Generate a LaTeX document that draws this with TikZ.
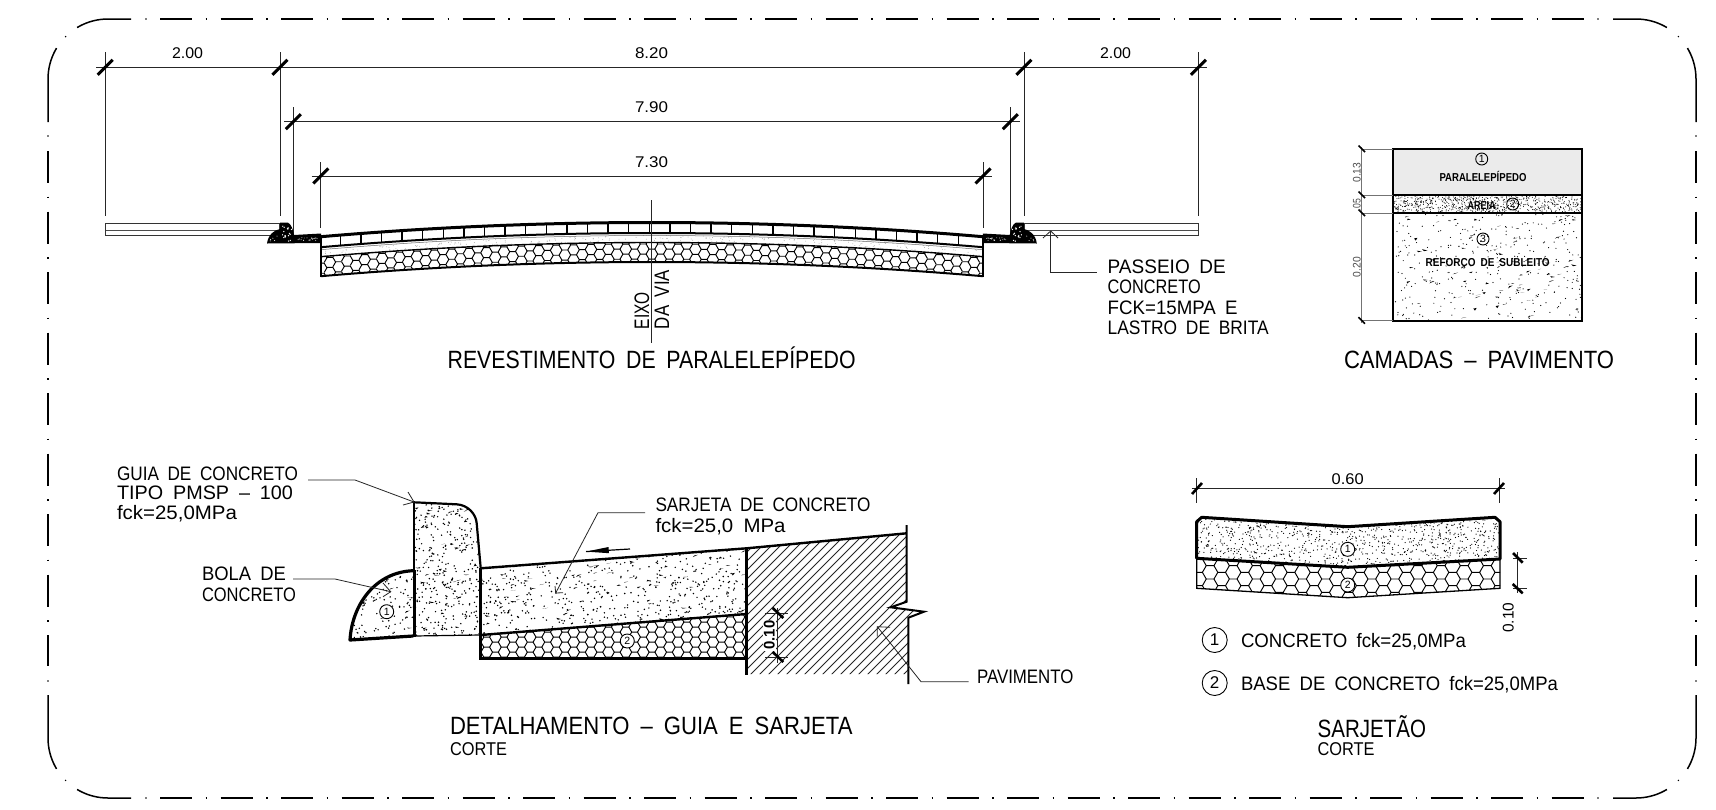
\documentclass[tikz,border=0pt]{standalone}
\usepackage{fontspec}
\usepackage{graphicx}
\setmainfont{Liberation Sans}
\newcommand\T[3]{\resizebox{#1pt}{\height}{\fontsize{#2}{#2}\selectfont\spaceskip=.5em\relax #3}}
\newcommand\tk[2]{\draw[tickst] (#1-7.5,#2+7.5) -- (#1+7.5,#2-7.5);}
\newcommand\hexes[6]{%
 \pgfmathsetmacro\hh{0.866*#5}%
 \pgfmathsetmacro\nc{int((#2-#1)/(1.5*#5))+2}%
 \pgfmathsetmacro\nr{int((#4-#3)/(2*\hh))+2}%
 \foreach \i in {0,...,\nc}{\foreach \j in {0,...,\nr}{%
   \pgfmathsetmacro\cx{#1+\i*1.5*#5}%
   \pgfmathsetmacro\cy{#3+\j*2*\hh+mod(\i,2)*\hh+#6*((\cx-651.9)/100)^2}%
   \draw[hexst] (\cx-#5,\cy)--(\cx-#5/2,\cy-\hh)--(\cx+#5/2,\cy-\hh)--(\cx+#5,\cy);
 }}}
\newcommand\stip[9]{%
 \pgfmathsetseed{#7}%
 \foreach \i in {1,...,#5}{%
   \pgfmathsetmacro\px{#1+(#2-#1)*rnd}\pgfmathsetmacro\py{#3+(#4-#3)*rnd}%
   \fill[#8] (\px,\py) circle[radius=#9];
 }%
 \ifnum#6>0
 \foreach \i in {1,...,#6}{%
   \pgfmathsetmacro\px{#1+(#2-#1)*rnd}\pgfmathsetmacro\py{#3+(#4-#3)*rnd}%
   \pgfmathsetmacro\ax{4.4*rnd-2.2}\pgfmathsetmacro\ay{4.4*rnd-2.2}%
   \fill[#8] (\px,\py) -- ++(\ax,\ay) -- ++(3.4,-0.6) -- cycle;
 }\fi}
\newcommand\corner[4]{%
 \draw[frame] (#1-#3*23,#2+#4*60) -- plot[domain=90:59,samples=10] ({#1+#3*60*cos(\x)},{#2+#4*60*sin(\x)});
 \draw[frame] plot[domain=31:0,samples=10] ({#1+#3*60*cos(\x)},{#2+#4*60*sin(\x)}) -- (#1+#3*60,#2-#4*43);
 \fill (#1+#3*42.4,#2+#4*42.4) circle[radius=.8];}
\newcommand\openhead[3]{\draw[lead] (#2) -- (#1) -- (#3);}
\tikzset{
 frame/.style={line width=1.5pt,black},
 dimln/.style={line width=.9pt,black!85},
 tickst/.style={line width=3pt,black},
 tickss/.style={line width=1.6pt,black},
 hexst/.style={line width=.95pt,black},
 thickln/.style={line width=3pt,black,line join=miter},
 midln/.style={line width=2pt,black},
 lead/.style={line width=.8pt,black!85},
 lab/.style={inner sep=0pt,outer sep=0pt,text=black},
 num/.style={circle,draw=black,fill=white,inner sep=0pt,minimum size=14pt,line width=.9pt,font=\fontsize{10.5}{10.5}\selectfont},
 numb/.style={circle,draw=black,inner sep=0pt,minimum size=25pt,line width=.9pt,font=\fontsize{17}{17}\selectfont},
 hatchln/.style={line width=.75pt,black!85},
}
\begin{document}
\begin{tikzpicture}[x=1pt,y=-1pt]
\useasboundingbox (0,0) rectangle (1716,809);
\fill[white] (0,0) rectangle (1716,809);
% ---------- frame
\draw[frame,dash pattern=on 32pt off 13.7pt on 1.4pt off 13.4pt] (160,19)--(1584,19);
\draw[frame,dash pattern=on 32pt off 13.7pt on 1.4pt off 13.4pt] (160,798)--(1584,798);
\draw[frame,dash pattern=on 32pt off 13.7pt on 1.4pt off 13.4pt] (48,151)--(48,666);
\draw[frame,dash pattern=on 32pt off 13.7pt on 1.4pt off 13.4pt] (1696,151)--(1696,666);
\corner{108}{79}{-1}{-1}\corner{1636}{79}{1}{-1}\corner{108}{738}{-1}{1}\corner{1636}{738}{1}{1}
\foreach \p in {(146,19),(1598,19),(146,798),(1598,798),(48,136),(48,681),(1696,136),(1696,681)}{\fill \p circle[radius=.8];}
% ---------- cross section dims
\draw[dimln] (105.3,52)--(105.3,216);
\draw[dimln] (280,52)--(280,216);
\draw[dimln] (1024,52)--(1024,216);
\draw[dimln] (1198.5,52)--(1198.5,216);
\draw[dimln] (96,67.3)--(1207,67.3);
\tk{105.3}{67.3}\tk{280}{67.3}\tk{1024}{67.3}\tk{1198.5}{67.3}
\draw[dimln] (293.4,107)--(293.4,237);
\draw[dimln] (1010.4,107)--(1010.4,237);
\draw[dimln] (284,121.7)--(1020,121.7);
\tk{293.4}{121.7}\tk{1010.4}{121.7}
\draw[dimln] (320.8,162)--(320.8,228);
\draw[dimln] (983,162)--(983,228);
\draw[dimln] (311.7,176)--(992,176);
\tk{320.8}{176}\tk{983}{176}
\node[lab,anchor=base] (d1) at (187.5,58.5) {\T{31}{15.5}{2.00}};
\node[lab,anchor=base] (d2) at (651.5,58.5) {\T{33}{15.5}{8.20}};
\node[lab,anchor=base] (d3) at (1115.5,58.5) {\T{31}{15.5}{2.00}};
\node[lab,anchor=base] (d4) at (651.5,112.5) {\T{33}{15.5}{7.90}};
\node[lab,anchor=base] (d5) at (651.5,167.5) {\T{33}{15.5}{7.30}};
% ---------- sidewalks
\foreach \a/\b in {105.3/280,1024/1198.5}{
 \draw[line width=1.1pt,black!80] (\a,223.7)--(\b,223.7);
 \draw[line width=1.5pt,black!70] (\a,230.3)--(\b,230.3);
 \draw[line width=1.1pt,black!80] (\a,235.6)--(\b,235.6);
 \draw[line width=1.1pt,black!80] (\a,223.7)--(\a,235.6);
 \draw[line width=1.1pt,black!80] (\b,223.7)--(\b,235.6);
}
% ---------- curbs
\foreach \m in {0,1}{
 \begin{scope}[shift={(1303.8*\m,0)},xscale={1-2*\m}]
 \fill[black] (267,243.5) .. controls (268,235) and (274,230) .. (280,229) -- (280,222.7) -- (288,222.7)
   .. controls (291,224) and (293,229) .. (294,235) -- (321,233.5) -- (321,243) -- cycle;
 \begin{scope}
  \clip (282,225) rectangle (292,242);
  \stip{282}{292}{225}{242}{18}{0}{11}{white}{.7}
 \end{scope}
 \stip{270}{278}{236}{241}{5}{0}{12}{white}{.5}
 \stip{298}{318}{237.5}{240.5}{22}{0}{13}{white}{.45}
 \end{scope}
}
% ---------- pavement
\begin{scope}
 \clip plot[domain=320.7:983.1,samples=40] (\x,{242.5+1.295*((\x-651.9)/100)^2})
   -- plot[domain=983.1:320.7,samples=40] (\x,{262+1.295*((\x-651.9)/100)^2}) -- cycle;
 \hexes{303.9}{1000}{244}{268}{5.8}{1.295}
\end{scope}
\begin{scope}
 \clip plot[domain=320.7:983.1,samples=40] (\x,{235+1.295*((\x-651.9)/100)^2})
   -- plot[domain=983.1:320.7,samples=40] (\x,{242.5+1.295*((\x-651.9)/100)^2}) -- cycle;
 \stip{321}{983}{234}{258}{900}{0}{21}{black!35}{.45}
\end{scope}
\foreach \k in {-15,...,15}{
 \pgfmathsetmacro\bx{649.3+\k*20.6}
 \pgfmathsetmacro\by{1.295*((\bx-651.9)/100)^2}
 \draw[line width=1.5pt,black] (\bx,222.5+\by)--(\bx,233+\by);
}
\draw[line width=3pt,black] plot[domain=320.7:983.1,samples=40] (\x,{222.5+1.295*((\x-651.9)/100)^2});
\draw[line width=2pt,black] plot[domain=320.7:983.1,samples=40] (\x,{233+1.295*((\x-651.9)/100)^2});
\draw[line width=.5pt,black!60] plot[domain=320.7:983.1,samples=40] (\x,{235.5+1.295*((\x-651.9)/100)^2});
\draw[line width=1.4pt,black] plot[domain=320.7:983.1,samples=40] (\x,{242.5+1.295*((\x-651.9)/100)^2});
\draw[line width=2pt,black] plot[domain=320.7:983.1,samples=40] (\x,{262+1.295*((\x-651.9)/100)^2});
\draw[line width=2.2pt,black] (320.7,236)--(320.7,276.6);
\draw[line width=2.2pt,black] (983.1,236)--(983.1,276.6);
\coordinate (eixoA) at (651.7,200);
\coordinate (eixoB) at (651.7,343);
\draw[line width=1pt,black!85] (eixoA)--(eixoB);
\node[lab,anchor=base west,rotate=90] (e1) at (649,329) {\T{37}{21}{EIXO}};
\node[lab,anchor=base west,rotate=90] (e2) at (669,329) {\T{59}{21}{DA VIA}};
% passeio leader
\coordinate (pasTip) at (1050.7,231);
\coordinate (pasL) at (1043,238);
\coordinate (pasR) at (1058,238);
\coordinate (pasEnd) at (1097,272.3);
\draw[lead] (pasTip) |- (pasEnd);
\openhead{pasTip}{pasL}{pasR}
\node[lab,anchor=base west] (p1) at (1107.7,273.7) {\T{118}{19.5}{PASSEIO DE}};
\node[lab,anchor=base west] (p2) at (1107.7,293.7) {\T{93}{19.5}{CONCRETO}};
\node[lab,anchor=base west] (p3) at (1107.7,314.3) {\T{130}{19.5}{FCK=15MPA E}};
\node[lab,anchor=base west] (p4) at (1107.7,334.3) {\T{161}{19.5}{LASTRO DE BRITA}};
\node[lab,anchor=base west] (t1) at (447.6,368) {\T{408}{25}{REVESTIMENTO DE PARALELEPÍPEDO}};
% ---------- camadas
\fill[black!8] (1393.3,149) rectangle (1581.7,195);
\begin{scope}
 \clip (1393.3,195) rectangle (1581.7,213);
 \stip{1394}{1581}{196}{212}{680}{0}{31}{black}{.5}
\end{scope}
\begin{scope}
 \clip (1393.3,213) rectangle (1581.7,320.7);
 \stip{1394}{1581}{214}{320}{320}{70}{32}{black}{.6}
\end{scope}
\draw[line width=2.2pt,black] (1393.3,149) rectangle (1581.7,320.7);
\draw[line width=1.8pt,black] (1393.3,195)--(1581.7,195);
\draw[line width=1.2pt,black] (1393.3,213)--(1581.7,213);
\draw[dimln,black!55] (1361.7,147)--(1361.7,323);
\foreach \y in {149,195,213,320.7}{
 \draw[dimln,black!55] (1361.7,\y)--(1393.3,\y);
 \draw[tickss] (1358.5,\y-3.5)--(1365,\y+3);
}
\node[lab,anchor=base,rotate=90,text=black!70] (c1) at (1360.5,172.7) {\T{20}{11}{0.13}};
\node[lab,anchor=base,rotate=90,text=black!70] (c2) at (1360.5,205) {\T{12}{11}{.05}};
\node[lab,anchor=base,rotate=90,text=black!70] (c3) at (1360.5,267) {\T{20}{11}{0.20}};
\node[num,minimum size=12pt,fill=none] (c4) at (1481.7,159) {1};
\node[lab,anchor=base] (c5) at (1483,181) {\T{87}{11.5}{\bfseries PARALELEPÍPEDO}};
\node[lab,anchor=base] (c6) at (1481.7,209) {\T{28}{11.5}{\bfseries AREIA}};
\node[num,minimum size=12pt,fill=none] (c7) at (1512.7,204) {2};
\node[num,minimum size=12pt,fill=none] (c8) at (1483,239) {3};
\node[lab,anchor=base] (c9) at (1487.7,266.3) {\T{124}{11.5}{\bfseries REFORÇO DE SUBLEITO}};
\node[lab,anchor=base west] (t2) at (1344,368) {\T{270}{25}{CAMADAS – PAVIMENTO}};
% ---------- detail: hatch
\begin{scope}
 \clip (746.7,548.3)--(906.7,533.3)--(906.7,601.7)--(890.7,607.3)--(924,611.7)--(908.3,617.7)--(908.3,674)--(746.7,674)--cycle;
 \foreach \i in {0,...,40}{\draw[hatchln] (600+\i*9,690)--(780+\i*9,510);}
\end{scope}
% guia
\begin{scope}
 \clip (414,502.3)--(456.7,504.3) .. controls (468,505) and (476,514) .. (476.7,523.3)--(480.7,568)--(480.7,635)--(414,636)--cycle;
 \stip{414}{481}{502}{637}{330}{40}{41}{black}{.8}
\end{scope}
\draw[line width=2.2pt,black] (414,502.3)--(456.7,504.3) .. controls (468,505) and (476,514) .. (476.7,523.3)--(480.7,568);
\draw[line width=1.2pt,black] (414,636)--(480.7,635);
\draw[line width=2.2pt,black] (414,502.3)--(414,572);
\draw[line width=3pt,black] (414,570)--(414,637);
% bola
\begin{scope}
 \clip (350,640) .. controls (352,605) and (375,572) .. (413.3,570.7)--(413.3,636)--cycle;
 \stip{350}{414}{570}{640}{120}{18}{42}{black}{.8}
\end{scope}
\draw[line width=3.2pt,black,line join=round] (413.3,570.7) .. controls (375,572) and (352,605) .. (350,640)--(413.3,636);
% sarjeta
\begin{scope}
 \clip (480.7,568.3)--(746.7,548.3)--(746.7,614)--(480.7,635)--cycle;
 \stip{481}{747}{548}{635}{600}{80}{43}{black}{.8}
\end{scope}
\begin{scope}
 \clip (480.7,635)--(746.7,614)--(746.7,658.3)--(480.7,658.3)--cycle;
 \hexes{478}{750}{617}{660}{5.8}{0}
\end{scope}
\draw[line width=2.4pt,black] (480.7,568.3)--(746.7,548.3)--(906.7,533.3);
\draw[line width=2.6pt,black] (480.7,568)--(480.7,658.3)--(746.7,658.3);
\draw[line width=2.4pt,black] (480.7,635)--(746.7,614);
\draw[line width=2.6pt,black] (746.7,548)--(746.7,675);
\draw[line width=2pt,black] (906.7,525)--(906.7,601.7)--(890.7,607.3)--(924,611.7)--(908.3,617.7)--(908.3,684);
\node[num] (s1) at (386.7,611.7) {1};
\node[num] (s2) at (627.3,641) {2};
% flow arrow
\coordinate (flowA) at (630,549);
\coordinate (flowB) at (586,551.6);
\draw[line width=1.2pt,black] (flowA)--(flowB);
\fill[black] (flowB)--(608.5,547)--(609,553.2)--cycle;
% 0.10 dim
\node[lab,anchor=base,rotate=90,fill=white,inner sep=1pt] (s3) at (774.5,635) {\T{29}{15.5}{\bfseries 0.10}};
\draw[dimln] (777.3,608)--(777.3,662.7);
\draw[dimln] (765,613)--(788,613);
\draw[dimln] (765,657)--(788,657);
\draw[line width=2.6pt,black] (772.7,608)--(783.3,618);
\draw[line width=2.6pt,black] (772.7,652)--(783.3,662);
% leaders
\coordinate (gTip) at (414,502);
\coordinate (gA) at (408,492);
\coordinate (gB) at (403,505);
\coordinate (gK) at (355,480);
\coordinate (gE) at (308,480);
\draw[lead] (gE)--(gK)--(gTip);
\openhead{gTip}{gA}{gB}
\coordinate (bTip) at (390.7,591.7);
\coordinate (bA) at (383,583);
\coordinate (bB) at (383,596.7);
\coordinate (bK) at (335,579);
\coordinate (bE) at (293,579);
\draw[lead] (bE)--(bK)--(bTip);
\openhead{bTip}{bA}{bB}
\coordinate (sTip) at (555.7,593);
\coordinate (sA) at (555,586);
\coordinate (sB) at (563,592.7);
\coordinate (sK) at (598,512.7);
\coordinate (sE) at (645,512.7);
\draw[lead] (sE)--(sK)--(sTip);
\openhead{sTip}{sA}{sB}
\coordinate (vTip) at (877.3,626.7);
\coordinate (vA) at (890,627.3);
\coordinate (vB) at (877.3,636.7);
\coordinate (vK) at (921,681.7);
\coordinate (vE) at (968.5,681.7);
\draw[lead] (vE)--(vK)--(vTip);
\openhead{vTip}{vA}{vB}
% detail labels
\node[lab,anchor=base west] (l1) at (117,480) {\T{181}{19.5}{GUIA DE CONCRETO}};
\node[lab,anchor=base west] (l2) at (117,499.5) {\T{176}{19.5}{TIPO PMSP – 100}};
\node[lab,anchor=base west] (l3) at (117,519) {\T{120}{19.5}{fck=25,0MPa}};
\node[lab,anchor=base west] (l4) at (202,580) {\T{84}{19.5}{BOLA DE}};
\node[lab,anchor=base west] (l5) at (202,601) {\T{94}{19.5}{CONCRETO}};
\node[lab,anchor=base west] (l6) at (655.5,511.5) {\T{215}{19.5}{SARJETA DE CONCRETO}};
\node[lab,anchor=base west] (l7) at (655.5,532) {\T{130}{19.5}{fck=25,0 MPa}};
\node[lab,anchor=base west] (l8) at (977,683) {\T{96.5}{19.5}{PAVIMENTO}};
\node[lab,anchor=base west] (t3) at (450,734.5) {\T{402.5}{25}{DETALHAMENTO – GUIA E SARJETA}};
\node[lab,anchor=base west] (t4) at (450,755) {\T{57}{18.5}{CORTE}};
% ---------- sarjetao
\begin{scope}
 \clip (1196.7,521.7)--(1201.7,517.3)--(1347.7,526.7)--(1495,517.3)--(1500,521.7)--(1500,559)--(1347.7,567.3)--(1196.7,558.3)--cycle;
 \stip{1197}{1500}{517}{568}{1050}{0}{51}{black}{.62}
\end{scope}
\begin{scope}
 \clip (1196.7,558)--(1196.7,588.3)--(1347.7,597.7)--(1500,588.3)--(1500,559)--(1347.7,567.3)--cycle;
 \hexes{1187}{1505}{559}{602}{7.7}{0}
\end{scope}
\draw[line width=1.3pt,black] (1196.7,558)--(1196.7,588.3)--(1347.7,597.7)--(1500,588.3)--(1500,559);
\draw[line width=3pt,black,line join=round] (1196.7,558.3)--(1196.7,521.7)--(1201.7,517.3)--(1347.7,526.7)--(1495,517.3)--(1500,521.7)--(1500,559)--(1347.7,567.3)--cycle;
\node[num] (j1) at (1347.7,549.3) {1};
\node[num] (j2) at (1347.7,585) {2};
\draw[dimln] (1196.7,478)--(1196.7,503);
\draw[dimln] (1499,478)--(1499,503);
\draw[dimln] (1191.7,488.3)--(1505,488.3);
\draw[line width=2.6pt,black] (1192,494)--(1202,483);
\draw[line width=2.6pt,black] (1494,494)--(1504,483);
\node[lab,anchor=base] (j3) at (1347.7,484.5) {\T{32}{15.5}{0.60}};
\draw[dimln] (1517.3,552)--(1517.3,593);
\draw[dimln] (1513,558.3)--(1527,558.3);
\draw[dimln] (1513,588.3)--(1527,588.3);
\draw[line width=2.6pt,black] (1513,553)--(1522.7,562.7);
\draw[line width=2.6pt,black] (1512.7,584)--(1522.7,593.3);
\node[lab,anchor=base,rotate=90] (j4) at (1513.5,617.7) {\T{30}{15.5}{0.10}};
\node[numb] (j5) at (1214.7,640) {1};
\node[lab,anchor=base west] (j6) at (1241,647) {\T{225}{19.5}{CONCRETO fck=25,0MPa}};
\node[numb] (j7) at (1214.7,683) {2};
\node[lab,anchor=base west] (j8) at (1241,690) {\T{317}{19.5}{BASE DE CONCRETO fck=25,0MPa}};
\node[lab,anchor=base west] (t5) at (1317.6,737.5) {\T{108.5}{25}{SARJETÃO}};
\node[lab,anchor=base west] (t6) at (1317.6,755) {\T{57}{18.5}{CORTE}};
\end{tikzpicture}
\end{document}
